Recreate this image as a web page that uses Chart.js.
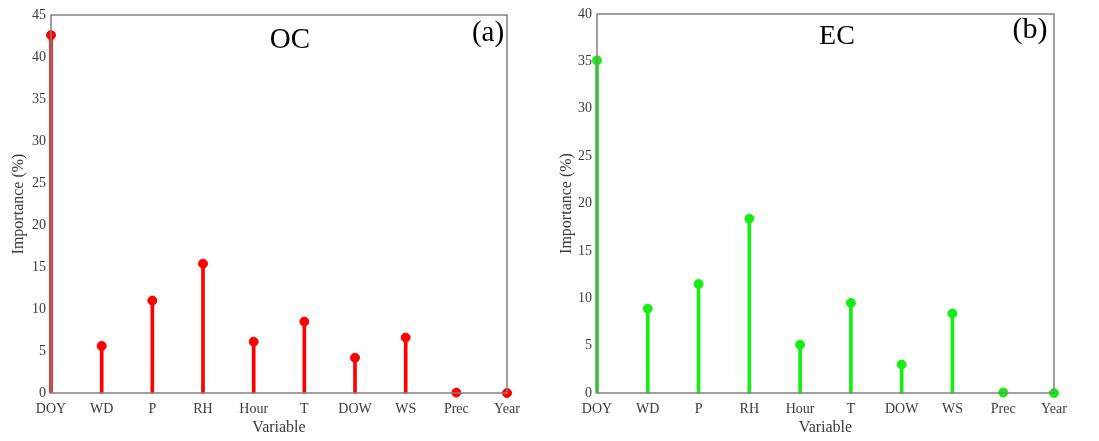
<!DOCTYPE html>
<html>
<head>
<meta charset="utf-8">
<script src="https://cdn.jsdelivr.net/npm/chart.js@4.4.0/dist/chart.umd.min.js"></script>
<style>
  body { margin: 0; background: #fff; width: 1099px; height: 441px; overflow: hidden; position: relative; }
  .panel { position: absolute; top: 0; height: 441px; }
  .lbl { position: absolute; font-family: "Liberation Serif", serif; color: #000; transform: translate(-50%, -50%); white-space: nowrap; }
</style>
</head>
<body>
<div class="panel" style="left:0;width:549px"><canvas id="ocChart" width="549" height="441"></canvas></div>
<div class="panel" style="left:549px;width:550px"><canvas id="ecChart" width="550" height="441"></canvas></div>
<div class="lbl" style="left:290px;top:38px;font-size:29px">OC</div>
<div class="lbl" style="left:488px;top:31px;font-size:29px">(a)</div>
<div class="lbl" style="left:837px;top:35px;font-size:28px">EC</div>
<div class="lbl" style="left:1030px;top:28px;font-size:30px">(b)</div>
<script>
// Variables (eje x)
const variables = ['DOY', 'WD', 'P', 'RH', 'Hour', 'T', 'DOW', 'WS', 'Prec', 'Year'];
// Importancia (%)
const ocValues = [42.6, 5.6, 11.0, 15.4, 6.1, 8.5, 4.2, 6.6, 0.05, 0];
const ecValues = [35.1, 8.9, 11.5, 18.4, 5.1, 9.5, 3.0, 8.4, 0.05, 0];
const ocTicks = [0, 5, 10, 15, 20, 25, 30, 35, 40, 45];
const ecTicks = [0, 5, 10, 15, 20, 25, 30, 35, 40];

const axisGray = '#808080';
const textGray = '#3a3a3a';
const serif = '"Liberation Serif", serif';

// Dibujar el marco completo alrededor del área del gráfico
const boxPlugin = {
    id: 'boxPlugin',
    afterDraw(chart) {
        const a = chart.chartArea;
        const ctx = chart.ctx;
        ctx.save();
        ctx.strokeStyle = axisGray;
        ctx.lineWidth = 1.5;
        ctx.strokeRect(a.left, a.top, a.right - a.left, a.bottom - a.top);
        ctx.restore();
    }
};

function crearGrafica(id, values, ticks, color, leftW, padRight, padTop, titlePad) {
    const ctx = document.getElementById(id).getContext('2d');
    return new Chart(ctx, {
        data: {
            labels: variables,
            datasets: [{
                type: 'line',
                data: values,
                showLine: false,
                pointRadius: 4.5,
                pointHoverRadius: 4.5,
                pointBackgroundColor: color,
                pointBorderColor: color,
                pointBorderWidth: 1
            }, {
                type: 'bar',
                data: values,
                backgroundColor: color,
                barThickness: 3
            }]
        },
        options: {
            responsive: false,
            animation: false,
            clip: false,
            layout: { padding: { left: 0, right: padRight, top: padTop, bottom: 0 } },
            plugins: { legend: { display: false }, tooltip: { enabled: false } },
            scales: {
                x: {
                    type: 'category',
                    offset: false,
                    grid: { display: false, drawTicks: false },
                    border: { display: false },
                    ticks: { color: textGray, padding: 8, maxRotation: 0, autoSkip: false, font: { family: serif, size: 14 } },
                    title: { display: true, text: 'Variable', color: textGray, padding: { top: 0 }, font: { family: serif, size: 16 } },
                    afterFit(scale) { scale.height = 48; }
                },
                y: {
                    min: 0,
                    max: ticks[ticks.length - 1],
                    grid: { display: false, drawTicks: false },
                    border: { display: false },
                    afterBuildTicks(scale) { scale.ticks = ticks.map(v => ({ value: v })); },
                    ticks: { color: textGray, padding: 5, font: { family: serif, size: 14 } },
                    title: { display: true, text: 'Importance (%)', color: textGray, padding: { top: titlePad, bottom: 2 }, font: { family: serif, size: 16 } },
                    afterFit(scale) { scale.width = leftW; }
                }
            }
        },
        plugins: [boxPlugin]
    });
}

crearGrafica('ocChart', ocValues, ocTicks, '#ff0000', 51, 42, 15, 9);
crearGrafica('ecChart', ecValues, ecTicks, '#14ee14', 48, 45, 14, 8);
</script>
</body>
</html>
